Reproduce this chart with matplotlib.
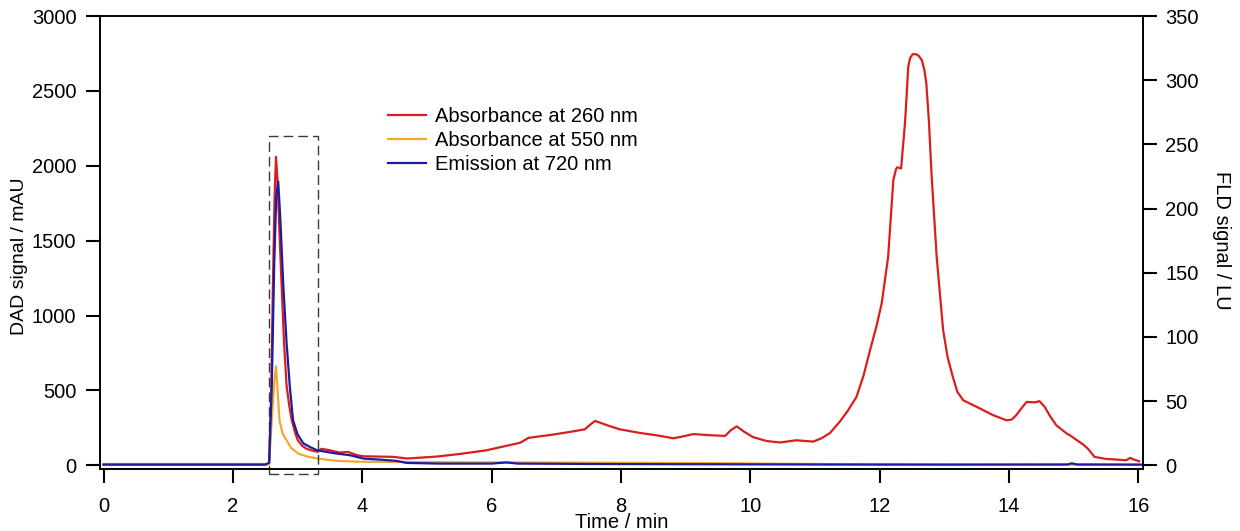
import matplotlib
matplotlib.use("Agg")
import matplotlib.pyplot as plt
from matplotlib.patches import Rectangle
from matplotlib.lines import Line2D

# Absorbance at 260 nm (DAD, mAU)
t_260 = [0.0, 1.0, 2.0, 2.5, 2.56, 2.59, 2.62, 2.645, 2.666, 2.69, 2.72, 2.754, 2.79,
         2.83, 2.87, 2.91, 2.96, 3.0, 3.07, 3.14, 3.22, 3.31, 3.37, 3.5, 3.65, 3.78,
         3.91, 4.02, 4.25, 4.48, 4.69, 5.15, 5.5, 5.92, 6.23, 6.44, 6.57, 6.95, 7.2,
         7.44, 7.52, 7.6, 7.8, 7.98, 8.29, 8.55, 8.81, 8.95, 9.12, 9.4, 9.61, 9.7,
         9.79, 9.9, 10.04, 10.25, 10.46, 10.71, 10.97, 11.1, 11.23, 11.38, 11.5,
         11.64, 11.75, 11.85, 11.95, 12.03, 12.13, 12.21, 12.25, 12.27, 12.33, 12.39,
         12.42, 12.44, 12.47, 12.51, 12.56, 12.6, 12.65, 12.69, 12.72, 12.76, 12.8,
         12.88, 12.98, 13.05, 13.13, 13.2, 13.29, 13.55, 13.75, 13.96, 14.04, 14.11,
         14.19, 14.27, 14.4, 14.47, 14.55, 14.63, 14.73, 14.89, 14.94, 15.14, 15.22,
         15.32, 15.5, 15.66, 15.81, 15.87, 15.93, 16.01]
abs_260 = [5, 5, 5, 5, 10, 450, 1250, 1800, 2060, 1900, 1550, 1190, 820,
           530, 400, 300, 220, 170, 130, 110, 98, 90, 110, 100, 85, 89,
           68, 60, 58, 56, 45, 58, 75, 100, 130, 150, 183, 205, 222,
           240, 270, 296, 265, 240, 216, 200, 180, 192, 208, 200, 196, 235,
           260, 225, 188, 162, 152, 167, 158, 180, 215, 290, 360,
           456, 600, 768, 930, 1080, 1392, 1904, 1975, 1990, 1982, 2283,
           2500, 2661, 2720, 2745, 2745, 2735, 2706, 2640, 2550, 2300, 1949,
           1392, 902, 720, 590, 490, 434, 379, 335, 300, 305, 334,
           380, 423, 420, 428, 390, 330, 267, 212, 200, 140, 110,
           56, 42, 38, 33, 49, 38, 27]

# Absorbance at 550 nm (DAD, mAU)
t_550 = [0.0, 2.5, 2.56, 2.6, 2.64, 2.666, 2.69, 2.72, 2.77, 2.83, 2.9, 3.01, 3.15,
         3.3, 3.6, 3.91, 4.5, 5.5, 7.0, 8.5, 9.5, 10.5, 11.5, 13.0, 16.0]
abs_550 = [3, 3, 8, 300, 560, 661, 500, 300, 210, 167, 115, 78, 58,
           45, 30, 24, 22, 20, 18, 16, 14, 10, 7, 5, 4]

# Emission at 720 nm (FLD, LU)
t_720 = [0.0, 2.5, 2.56, 2.6, 2.64, 2.67, 2.70, 2.73, 2.78, 2.83, 2.88, 2.93, 3.0,
         3.09, 3.2, 3.3, 3.55, 3.81, 4.02, 4.3, 4.53, 4.69, 5.2, 6.0, 6.23, 6.4,
         7.5, 9.0, 11.0, 13.0, 14.9, 14.97, 15.05, 16.05]
em_720 = [0.5, 0.5, 2, 60, 160, 210, 221, 195, 139, 95, 61, 35, 24,
          17, 14, 11.7, 9.5, 7.8, 5.2, 4.3, 3.4, 1.8, 1.3, 1.3, 2.2, 1.3,
          1.0, 0.8, 0.6, 0.5, 0.6, 1.5, 0.6, 0.5]

labels = ["Absorbance at 260 nm", "Absorbance at 550 nm", "Emission at 720 nm"]
colors = ["#DA1E1E", "#F0A830", "#1C1CA0"]

plt.rcParams["font.family"] = ["Liberation Sans", "DejaVu Sans"]
plt.rcParams["font.size"] = 14.5

fig = plt.figure(figsize=(12.4, 5.31), dpi=100)
ax = fig.add_axes([100 / 1240, 1 - 469 / 531, 1043 / 1240, 453 / 531])
ax2 = ax.twinx()

ax.plot(t_260, abs_260, color=colors[0], lw=1.6)
ax.plot(t_550, abs_550, color=colors[1], lw=1.6)
ax2.plot(t_720, em_720, color=colors[2], lw=1.6)

ax.set_xlim(-0.055, 16.07)
ax.set_ylim(-25, 3000)
ax2.set_ylim(-25 * 350 / 3000, 350)
ax.set_xticks(range(0, 17, 2))
ax.set_yticks(range(0, 3001, 500))
ax2.set_yticks(range(0, 351, 50))

for a in (ax, ax2):
  for s in a.spines.values():
    s.set_linewidth(1.2)
ax.tick_params(axis="both", direction="out", length=10, width=1.5, labelsize=14.5)
ax.tick_params(axis="y", pad=7)
ax.tick_params(axis="x", pad=10)
ax2.tick_params(axis="y", direction="out", length=10, width=1.5, labelsize=14.5, pad=6)

ax.set_xlabel("Time / min", fontsize=14.5)
ax.xaxis.set_label_coords(0.5, -0.097)
ax.set_ylabel("DAD signal / mAU", fontsize=14)
ax.yaxis.set_label_coords(-0.069, 0.47)
ax2.set_ylabel("FLD signal / LU", fontsize=14.5, rotation=270, va="center", ha="center")
ax2.yaxis.set_label_coords(1.0757, 0.505)
ax2.yaxis.label.set_rotation_mode("default")

# dashed box around the early peak
box = Rectangle((2.56, -60), 0.75, 2260, fill=False, edgecolor="#3a3a3a",
                lw=1.0, linestyle=(0, (7, 3.6)), clip_on=False, zorder=5)
ax.add_patch(box)

handles = [Line2D([], [], color=c, lw=1.6) for c in colors]
fig.legend(handles, labels, loc="upper left", bbox_to_anchor=(388 / 1240, 1 - 107 / 531),
           frameon=False, fontsize=14.5, handlelength=1.9, handletextpad=0.45,
           labelspacing=0.25, borderpad=0, borderaxespad=0)

fig.savefig("out.png", dpi=100)
